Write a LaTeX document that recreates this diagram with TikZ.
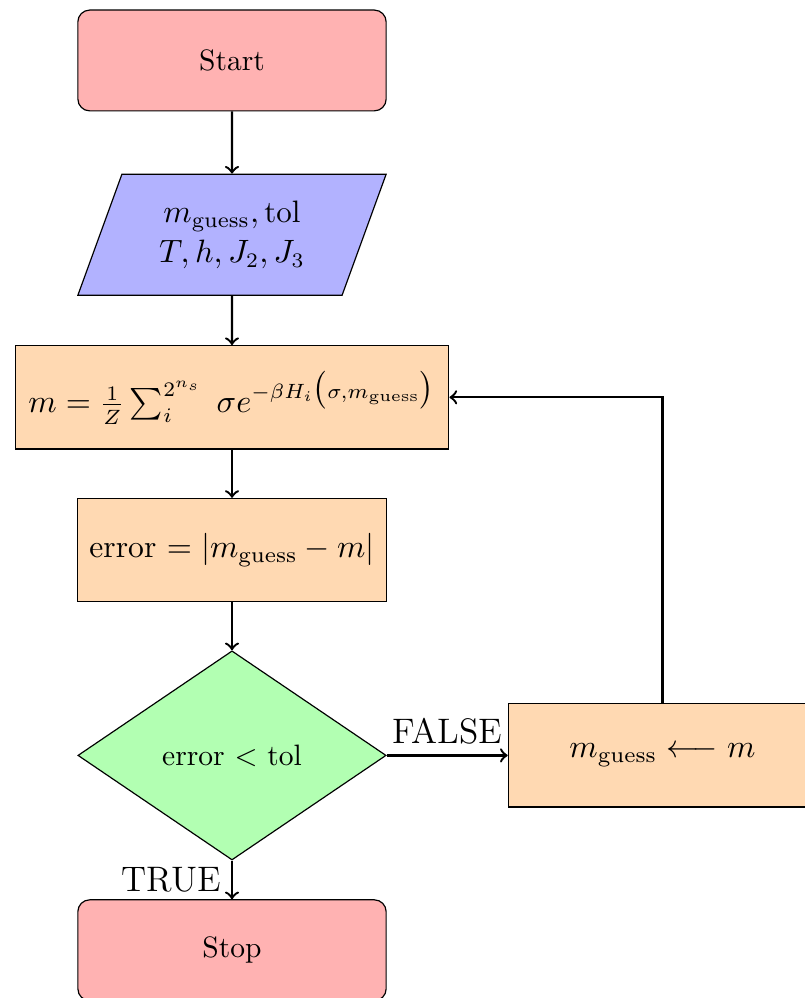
\documentclass[tikz,border=0pt]{standalone}
\usepackage{amsmath}
\usepackage{amsfonts}
\usepackage{tikz}
\usetikzlibrary{positioning,shapes.geometric}

\begin{document}
\begin{tikzpicture}[
    startstop/.style={rectangle, rounded corners, minimum width=3.67cm, minimum height=1.2cm, text centered, draw=black, fill=red!30},
    io/.style={trapezium, trapezium stretches body, trapezium left angle=70, trapezium right angle=110, minimum width=3.67cm, inner ysep=9pt, align=center, font=\fontsize{10.5pt}{13.6pt}\selectfont, draw=black, fill=blue!30},
    process/.style={rectangle, minimum width=3.67cm, minimum height=1.23cm, text centered, font=\fontsize{10.7pt}{12.8pt}\selectfont, draw=black, fill=orange!30},
    decision/.style={diamond, minimum width=3.67cm, minimum height=2.49cm, text centered, draw=black, fill=green!30},
    flowarrow/.style={thick, ->}]
    \useasboundingbox (-2.762,0.720) rectangle (6.821,-11.161);
    \node (start) [startstop] {Start};
    \node (input) [io, below=0.74cm of start] {$m_{\text{guess}}, \text{tol}$\\ $T, h, J_2, J_3$};
    \node (model) [process, inner xsep=4.5pt, below=0.585cm of input] {$m = \frac{1}{Z}\sum_{i}^{2^{n_s}}\;\sigma e^{-\beta H_i\big(\sigma, m_{\text{guess}}\big)}$};
    \node (err) [process, below=0.575cm of model] {error $= |m_{\text{guess}} - m|$};
    \node (check) [decision, below=0.57cm of err] {error $<$ tol};
    \node (update) [process, right=1.44cm of check] {$m_{\text{guess}} \longleftarrow m$};
    \node (stop) [startstop, below=0.46cm of check] {Stop};

    \draw [flowarrow] (start) -- (input);
    \draw [flowarrow] (input) -- (model);
    \draw [flowarrow] (model) -- (err);
    \draw [flowarrow] (err) -- (check);
    \draw [flowarrow] (check) -- node[above] {\large FALSE} (update);
    \draw [flowarrow] (check) -- node[left] {\large TRUE} (stop);
    \draw [flowarrow] (update.north) |- (model.east);
\end{tikzpicture}
\end{document}
